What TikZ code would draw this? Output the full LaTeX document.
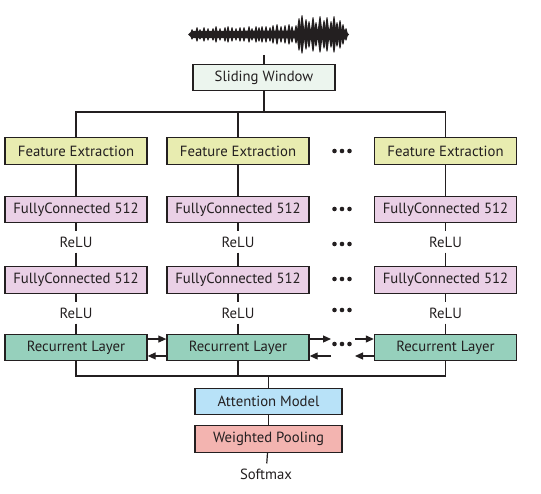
\documentclass[tikz,border=0pt]{standalone}
\usepackage{fontspec}
\setmainfont{PT Sans}
\usetikzlibrary{arrows.meta,calc}
\definecolor{ink}{HTML}{231F20}
\definecolor{swc}{RGB}{236,245,238}
\definecolor{fec}{RGB}{232,236,176}
\definecolor{fcc}{RGB}{234,208,230}
\definecolor{rlc}{RGB}{150,208,188}
\definecolor{atc}{RGB}{184,226,248}
\definecolor{wpc}{RGB}{243,180,176}
\begin{document}
\begin{tikzpicture}[x=1bp,y=-1bp,font=\fontsize{14.8}{17}\selectfont,
  box/.style={draw=ink,line width=1.4bp,minimum width=142bp,minimum height=26.5bp,inner sep=0pt,text=ink},
  lbl/.style={inner sep=5bp,text=ink},
  conn/.style={draw=ink,line width=1.2bp},
  arr/.style={conn,-{Triangle[length=8bp,width=7bp]}}]
\useasboundingbox (0,0) rectangle (541,494);

% waveform
\fill[ink] (188,34.5) -- (192,31) -- (296,30.5) -- (300,29) -- (344,29) -- (349,34.5)
  -- (344,40) -- (300,40) -- (296,38.5) -- (192,38) -- cycle;
\foreach \x/\a/\w in {192/5/1.4,197/7/1.5,200/5/1.3,204/7/1.5,208/6/1.4,213/6/1.5,216/8/1.5,220/6/1.4,
  225/7/1.5,228/8/1.5,232/7/1.4,236/6/1.4,240/7/1.5,244/7/1.5,249/8/1.5,252/6/1.3,256/8/1.5,259/7/1.4,
  262/8/1.5,266/8/1.5,270/7/1.4,273/9/1.5,277/10/1.6,281/8/1.5,285/9/1.5,289/10/1.6,292/8/1.5,296/9/1.6,
  299/16/1.8,302/19/2,306/15/1.8,309/13/1.7,313/17/1.9,316/12/1.7,320/18/2,324/14/1.8,327/17/1.9,
  331/13/1.7,334/18/1.9,337/12/1.7,340/14/1.8,343/10/1.6,346/6/1.4}{
  \fill[ink] (\x-1.4*\w,34.5) -- (\x-0.5,34.5-\a) -- (\x+0.5,34.5-\a) -- (\x+1.4*\w,34.5)
    -- (\x+0.5,34.5+\a) -- (\x-0.5,34.5+\a) -- cycle;
}
\coordinate (wave) at (264,55);

\node[box,fill=swc] (sw) at (264,77.5) {Sliding Window};

\node[box,fill=fec] (fe1) at (76,151) {Feature Extraction};
\node[box,fill=fec] (fe2) at (238,151) {Feature Extraction};
\node[box,fill=fec] (fe3) at (445.5,151) {Feature Extraction};

\node[box,fill=fcc] (fa1) at (76,209.5) {FullyConnected 512};
\node[box,fill=fcc] (fa2) at (238,209.5) {FullyConnected 512};
\node[box,fill=fcc] (fa3) at (445.5,209.5) {FullyConnected 512};

\node[lbl] (ra1) at (76,242) {ReLU};
\node[lbl] (ra2) at (238,242) {ReLU};
\node[lbl] (ra3) at (445.5,242) {ReLU};

\node[box,fill=fcc] (fb1) at (76,280) {FullyConnected 512};
\node[box,fill=fcc] (fb2) at (238,280) {FullyConnected 512};
\node[box,fill=fcc] (fb3) at (445.5,280) {FullyConnected 512};

\node[lbl] (rb1) at (76,313) {ReLU};
\node[lbl] (rb2) at (238,313) {ReLU};
\node[lbl] (rb3) at (445.5,313) {ReLU};

\node[box,fill=rlc] (rl1) at (76,347.5) {Recurrent Layer};
\node[box,fill=rlc] (rl2) at (238,347.5) {Recurrent Layer};
\node[box,fill=rlc] (rl3) at (445.5,347.5) {Recurrent Layer};

\node[box,fill=atc,minimum width=147bp] (att) at (268.5,401.5) {Attention Model};
\node[box,fill=wpc,minimum width=147bp] (wp) at (268.5,439) {Weighted Pooling};
\node[lbl] (sm) at (266,474) {Softmax};

\coordinate (busT) at (0,112);
\coordinate (busB) at (0,376);

% connectors
\draw[conn] (wave) -- (sw);
\draw[conn] (sw) -- (sw |- busT);
\draw[conn] (fe1) -- (fe1 |- busT) -| (fe3);
\draw[conn] (fe2) -- (fe2 |- busT);
\foreach \c in {1,2,3}{
  \draw[conn] (fe\c) -- (fa\c);
  \draw[conn] (fa\c) -- (ra\c) -- (fb\c);
  \draw[conn] (fb\c) -- (rb\c) -- (rl\c);
}
\draw[conn] (rl1) -- (rl1 |- busB) -| (rl3);
\draw[conn] (rl2) -- (rl2 |- busB);
\draw[conn] (att) -- (att |- busB);
\draw[conn] (att) -- (wp);
\draw[conn] (wp) -- (sm);

% recurrent arrows
\coordinate (g1t) at (331,339);
\coordinate (g1b) at (331,356);
\coordinate (g2t) at (355,339);
\coordinate (g2b) at (355,356);
\draw[arr] ([yshift=-5.5bp]rl1.north east) -- ([yshift=-5.5bp]rl2.north west);
\draw[arr] ([yshift=5.5bp]rl2.south west) -- ([yshift=5.5bp]rl1.south east);
\draw[arr] (rl2.east |- g1t) -- (g1t);
\draw[arr] (g1b) -- (rl2.east |- g1b);
\draw[arr] (g2t) -- (rl3.west |- g2t);
\draw[arr] (rl3.west |- g2b) -- (g2b);

% ellipsis dots
\foreach \y in {151,209,244,279,310,344}{
  \foreach \x in {334.5,342,349.5}{
    \fill[ink] (\x,\y) circle (2.3bp);
  }
}
\end{tikzpicture}
\end{document}
